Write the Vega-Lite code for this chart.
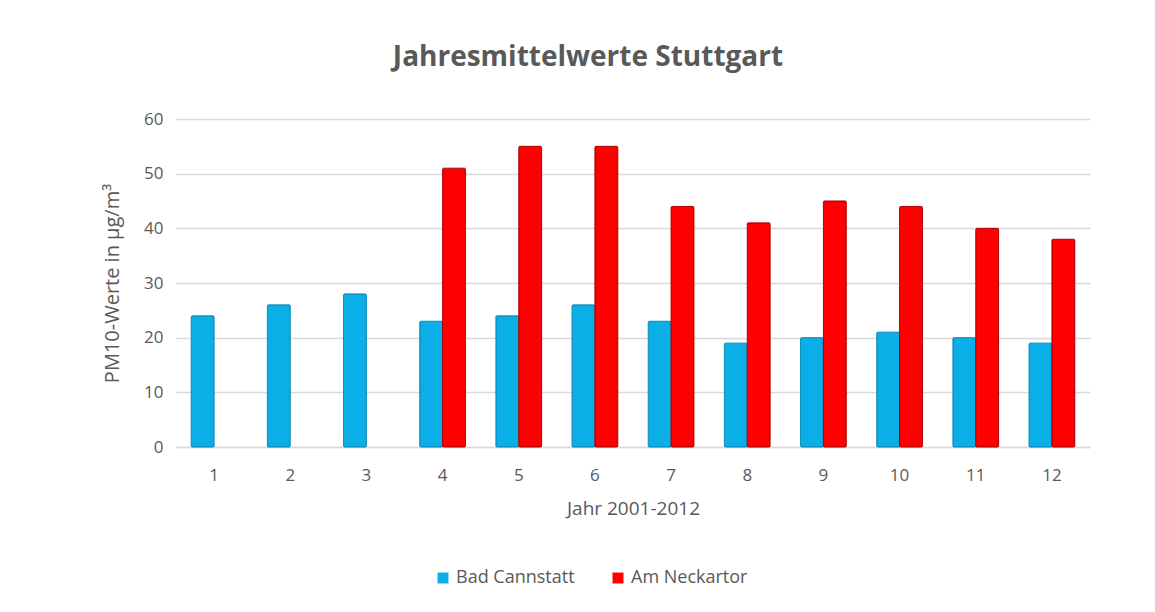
{
  "$schema": "https://vega.github.io/schema/vega-lite/v6.json",
  "width": 914,
  "height": 328,
  "autosize": {"type": "none"},
  "padding": {"left": 176, "top": 119, "right": 65, "bottom": 165},
  "background": "white",
  "title": {
    "text": "Jahresmittelwerte Stuttgart",
    "font": "Open Sans",
    "fontSize": 28,
    "fontWeight": "bold",
    "color": "#595959",
    "anchor": "middle",
    "dx": -45,
    "offset": 38
  },
  "data": {
    "values": [
      {"jahr": "1", "station": "Bad Cannstatt", "wert": 24},
      {"jahr": "2", "station": "Bad Cannstatt", "wert": 26},
      {"jahr": "3", "station": "Bad Cannstatt", "wert": 28},
      {"jahr": "4", "station": "Bad Cannstatt", "wert": 23},
      {"jahr": "5", "station": "Bad Cannstatt", "wert": 24},
      {"jahr": "6", "station": "Bad Cannstatt", "wert": 26},
      {"jahr": "7", "station": "Bad Cannstatt", "wert": 23},
      {"jahr": "8", "station": "Bad Cannstatt", "wert": 19},
      {"jahr": "9", "station": "Bad Cannstatt", "wert": 20},
      {"jahr": "10", "station": "Bad Cannstatt", "wert": 21},
      {"jahr": "11", "station": "Bad Cannstatt", "wert": 20},
      {"jahr": "12", "station": "Bad Cannstatt", "wert": 19},
      {"jahr": "1", "station": "Am Neckartor", "wert": null},
      {"jahr": "2", "station": "Am Neckartor", "wert": null},
      {"jahr": "3", "station": "Am Neckartor", "wert": null},
      {"jahr": "4", "station": "Am Neckartor", "wert": 51},
      {"jahr": "5", "station": "Am Neckartor", "wert": 55},
      {"jahr": "6", "station": "Am Neckartor", "wert": 55},
      {"jahr": "7", "station": "Am Neckartor", "wert": 44},
      {"jahr": "8", "station": "Am Neckartor", "wert": 41},
      {"jahr": "9", "station": "Am Neckartor", "wert": 45},
      {"jahr": "10", "station": "Am Neckartor", "wert": 44},
      {"jahr": "11", "station": "Am Neckartor", "wert": 40},
      {"jahr": "12", "station": "Am Neckartor", "wert": 38}
    ]
  },
  "mark": {"type": "bar", "strokeWidth": 1, "cornerRadius": 1},
  "encoding": {
    "x": {
      "field": "jahr",
      "type": "ordinal",
      "sort": ["1","2","3","4","5","6","7","8","9","10","11","12"],
      "scale": {"paddingInner": 0.4, "paddingOuter": 0.2},
      "axis": {
        "title": "Jahr 2001-2012",
        "labelAngle": 0,
        "ticks": false,
        "domainColor": "#d9d9d9",
        "domainWidth": 1.5,
        "labelPadding": 20,
        "titlePadding": 16,
        "labelFont": "Open Sans",
        "titleFont": "Open Sans",
        "labelFontSize": 17,
        "titleFontSize": 19,
        "titleFontWeight": "normal",
        "labelColor": "#595959",
        "titleColor": "#595959"
      }
    },
    "xOffset": {
      "field": "station",
      "type": "nominal",
      "sort": ["Bad Cannstatt", "Am Neckartor"]
    },
    "y": {
      "field": "wert",
      "type": "quantitative",
      "scale": {"domain": [0, 60]},
      "axis": {
        "title": "PM10-Werte in µg/m³",
        "values": [0, 10, 20, 30, 40, 50, 60],
        "ticks": false,
        "domain": false,
        "gridColor": "#d9d9d9",
        "gridWidth": 1.5,
        "labelPadding": 13,
        "titlePadding": 21,
        "labelFont": "Open Sans",
        "titleFont": "Open Sans",
        "labelFontSize": 17,
        "titleFontSize": 20,
        "titleFontWeight": "normal",
        "labelColor": "#595959",
        "titleColor": "#595959"
      }
    },
    "color": {
      "field": "station",
      "type": "nominal",
      "sort": ["Bad Cannstatt", "Am Neckartor"],
      "scale": {"domain": ["Bad Cannstatt", "Am Neckartor"], "range": ["#0AAFE8", "#FF0000"]},
      "legend": {
        "title": null,
        "orient": "none",
        "direction": "horizontal",
        "legendX": 258,
        "legendY": 450,
        "symbolType": "square",
        "symbolSize": 120,
        "symbolStrokeWidth": 0,
        "labelFont": "Open Sans",
        "labelFontSize": 18,
        "labelColor": "#595959",
        "columnPadding": 34
      }
    },
    "stroke": {
      "field": "station",
      "type": "nominal",
      "scale": {"domain": ["Bad Cannstatt", "Am Neckartor"], "range": ["#0A8AB8", "#B00000"]},
      "legend": null
    }
  },
  "config": {
    "view": {"stroke": null}
  }
}
